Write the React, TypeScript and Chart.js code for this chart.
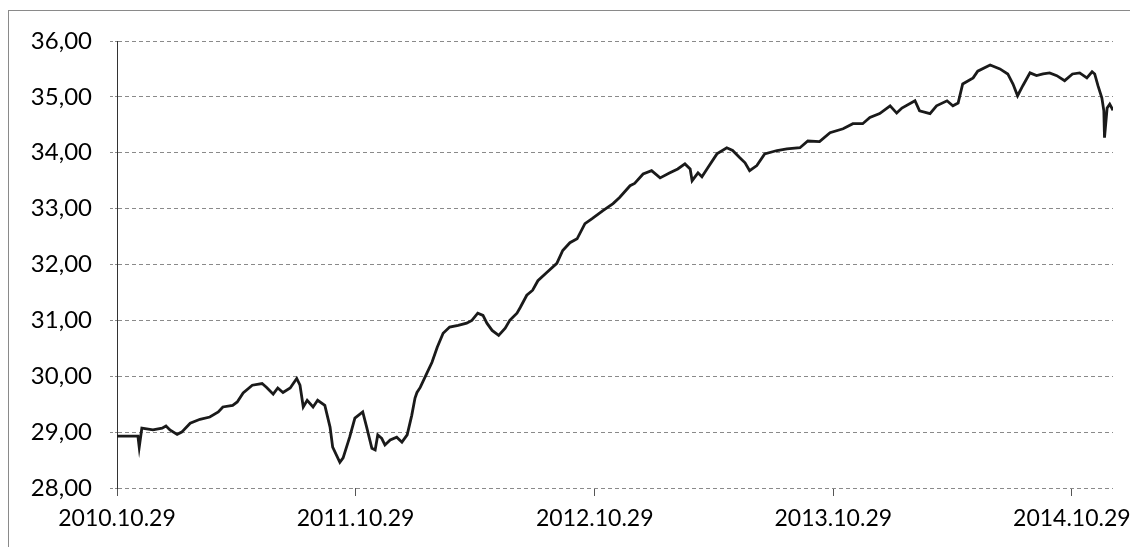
import React, { useEffect, useRef } from "react";
import { Chart, registerables } from "chart.js";

Chart.register(...registerables);

// Day offsets counted from 2010.10.29
const dayOffsets: number[] = [
  0, 32, 34, 38, 55, 69, 75, 81, 92, 99, 112, 127, 142, 155, 162, 177, 184, 193, 207, 222,
  229, 239, 246, 254, 265, 275, 280, 285, 291, 300, 307, 318, 326, 330, 341, 346, 356, 364, 376, 382,
  390, 395, 399, 405, 410, 418, 428, 436, 444, 451, 456, 459, 464, 474, 482, 490, 499, 509, 522, 535,
  543, 552, 560, 566, 574, 584, 594, 601, 612, 617, 627, 636, 644, 658, 673, 682, 693, 704, 716, 727,
  743, 759, 769, 785, 792, 805, 818, 831, 846, 858, 869, 877, 880, 889, 895, 904, 918, 933, 942, 953,
  961, 968, 979, 991, 1010, 1025, 1045, 1057, 1075, 1091, 1111, 1126, 1141, 1152, 1167, 1183, 1193, 1201, 1221, 1228,
  1244, 1254, 1270, 1279, 1287, 1294, 1310, 1317, 1336, 1351, 1363, 1371, 1378, 1386, 1397, 1407, 1417, 1427, 1438, 1450,
  1462, 1473, 1484, 1492, 1496, 1501, 1507, 1510, 1511, 1515, 1519, 1524,
];

const seriesValues: number[] = [
  28.93, 28.93, 28.73, 29.07, 29.04, 29.07, 29.11, 29.04, 28.96, 29.0, 29.16, 29.23, 29.27, 29.36, 29.45, 29.48, 29.54, 29.7, 29.84, 29.87,
  29.8, 29.68, 29.79, 29.71, 29.79, 29.96, 29.84, 29.45, 29.57, 29.45, 29.57, 29.48, 29.09, 28.73, 28.46, 28.54, 28.91, 29.25, 29.36, 29.09,
  28.71, 28.68, 28.95, 28.89, 28.77, 28.86, 28.91, 28.82, 28.95, 29.3, 29.61, 29.71, 29.8, 30.05, 30.25, 30.52, 30.77, 30.88, 30.91, 30.95,
  31.0, 31.13, 31.09, 30.95, 30.82, 30.73, 30.86, 31.0, 31.13, 31.23, 31.45, 31.54, 31.71, 31.86, 32.02, 32.25, 32.39, 32.46, 32.73, 32.82,
  32.96, 33.09, 33.2, 33.41, 33.45, 33.62, 33.68, 33.55, 33.64, 33.71, 33.8, 33.71, 33.5, 33.64, 33.57, 33.73, 33.98, 34.09, 34.04, 33.91,
  33.82, 33.68, 33.77, 33.98, 34.04, 34.07, 34.09, 34.21, 34.2, 34.36, 34.43, 34.52, 34.52, 34.63, 34.7, 34.84, 34.71, 34.8, 34.93, 34.75,
  34.7, 34.84, 34.93, 34.84, 34.89, 35.23, 35.34, 35.46, 35.57, 35.5, 35.41, 35.23, 35.02, 35.2, 35.43, 35.38, 35.41, 35.43, 35.38, 35.29,
  35.41, 35.43, 35.34, 35.45, 35.41, 35.2, 34.98, 34.75, 34.27, 34.8, 34.87, 34.76,
];

const tickDays: number[] = [0, 365, 731, 1096, 1461];
const tickLabels: string[] = ["2010.10.29", "2011.10.29", "2012.10.29", "2013.10.29", "2014.10.29"];

const yMin = 28;
const yMax = 36;

export default function App() {
  const ref = useRef<HTMLCanvasElement | null>(null);

  useEffect(() => {
    if (!ref.current) return;
    const points = dayOffsets.map((d, i) => ({ x: d, y: seriesValues[i] }));
    const chart = new Chart(ref.current, {
      type: "line",
      data: {
        datasets: [
          {
            data: points,
            borderColor: "#1a1a1a",
            borderWidth: 2.8,
            pointRadius: 0,
            tension: 0,
            fill: false,
          },
        ],
      },
      options: {
        animation: false,
        responsive: false,
        devicePixelRatio: 1,
        layout: { padding: { top: 30, right: 25, left: 0, bottom: 0 } },
        plugins: { legend: { display: false }, tooltip: { enabled: false } },
        scales: {
          x: {
            type: "linear",
            min: 0,
            max: dayOffsets[dayOffsets.length - 1],
            afterBuildTicks: (scale: any) => {
              scale.ticks = tickDays.map((v) => ({ value: v }));
            },
            afterFit: (scale: any) => {
              scale.height = 61;
              scale.paddingLeft = 0;
              scale.paddingRight = 0;
            },
            ticks: {
              autoSkip: false,
              maxRotation: 0,
              color: "#000",
              font: { family: "Lato", size: 23 },
              padding: 9,
              callback: (v: any) => {
                const i = tickDays.indexOf(Number(v));
                return i >= 0 ? tickLabels[i] : "";
              },
            },
            grid: {
              drawOnChartArea: false,
              drawTicks: true,
              tickLength: 8,
              color: "#555",
            },
            border: { display: false },
          },
          y: {
            min: yMin,
            max: yMax,
            afterFit: (scale: any) => {
              scale.width = 108;
              scale.paddingTop = 0;
              scale.paddingBottom = 0;
            },
            ticks: {
              stepSize: 1,
              color: "#000",
              font: { family: "Lato", size: 24 },
              padding: 18,
              callback: (v: any) => Number(v).toFixed(2).replace(".", ","),
            },
            grid: {
              color: "#8a8a8a",
              lineWidth: 1,
              tickLength: 7,
              tickBorderDash: [3, 2],
            },
            border: { display: true, color: "#333", width: 1, dash: [4, 3] },
          },
        },
      },
    } as any);
    return () => chart.destroy();
  }, []);

  return (
    <div
      style={{
        position: "relative",
        top: 2,
        width: 1130,
        height: 539,
        boxSizing: "border-box",
        borderLeft: "1px solid #8a8a8a",
        borderTop: "1px solid #8a8a8a",
      }}
    >
      <canvas ref={ref} width={1129} height={538} style={{ display: "block" }} />
    </div>
  );
}
